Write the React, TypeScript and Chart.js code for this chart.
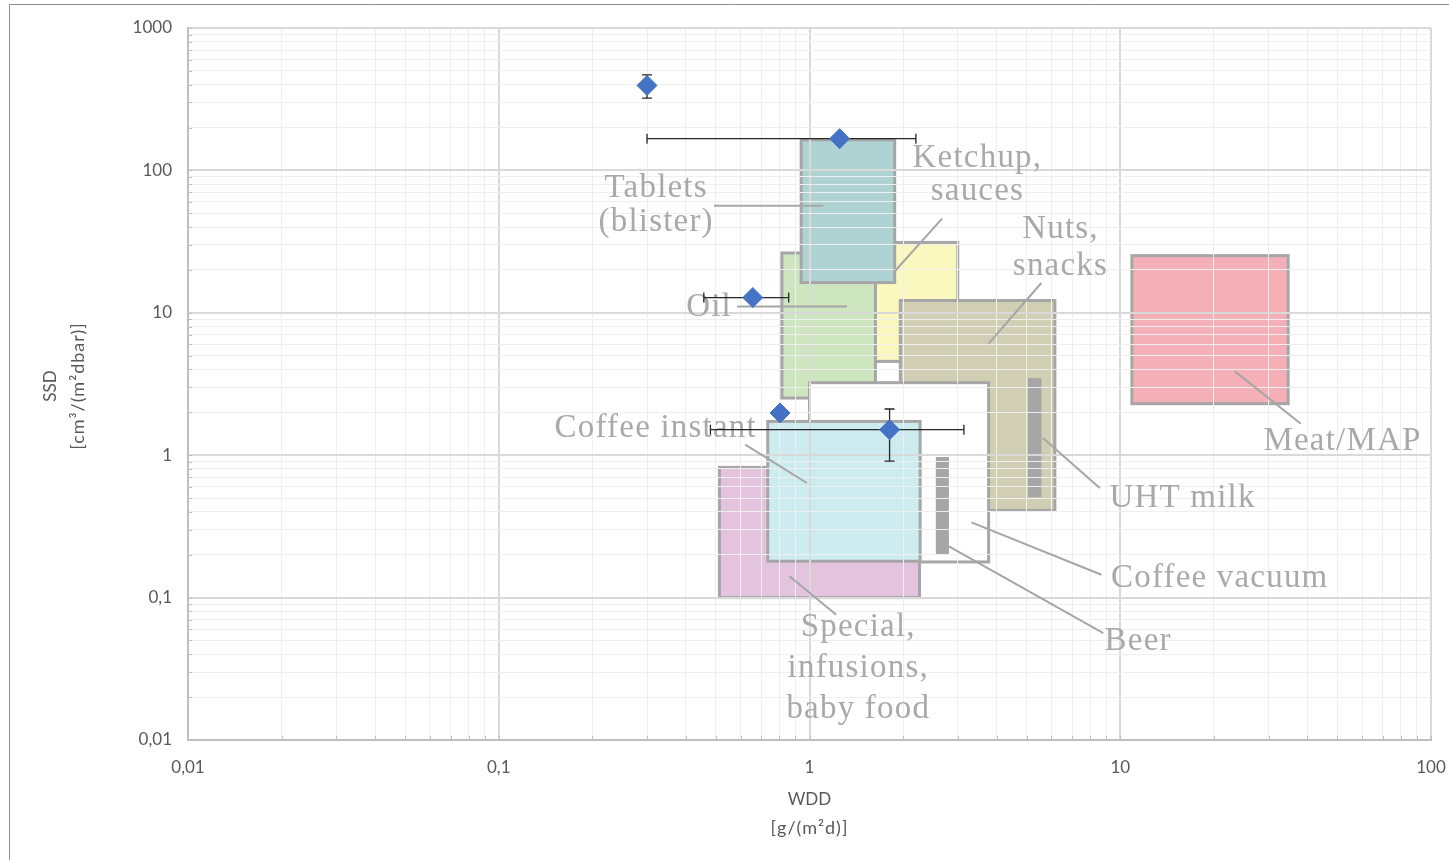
import { useEffect, useRef } from 'react';
import { Chart, registerables } from 'chart.js';

Chart.register(...registerables);

// Measured packages: WDD (x) and SSD (y) with symmetric error bars
const pointX = [0.3, 1.25, 0.657, 0.804, 1.81];
const pointY = [395, 167, 12.8, 1.98, 1.51];
const pointXErr = [0, 0.95, 0.2, 0, 1.33];
const pointYErr = [73, 0, 0, 0, 0.6];

// Requirement ranges per product group, listed in drawing order (back to front)
const boxNames = [
  'Ketchup, sauces',
  'Oil',
  'Tablets (blister)',
  'Nuts, snacks',
  'UHT milk',
  'Coffee vacuum',
  'Beer',
  'Special, infusions, baby food',
  'Coffee instant',
  'Meat/MAP',
];
const boxXMin = [1.55, 0.815, 0.94, 1.96, 5.05, 1.0, 2.55, 0.513, 0.734, 10.9];
const boxXMax = [3.0, 1.63, 1.88, 6.16, 5.58, 3.77, 2.81, 2.26, 2.27, 34.7];
const boxYMin = [4.56, 2.52, 16.3, 0.41, 0.506, 0.178, 0.202, 0.1, 0.18, 2.3];
const boxYMax = [31.2, 26.3, 164, 12.2, 3.48, 3.23, 0.971, 0.821, 1.727, 25.2];

// Axis ticks
const xMajorTicks = [0.01, 0.1, 1, 10, 100];
const xTickLabels = ['0,01', '0,1', '1', '10', '100'];
const yMajorTicks = [0.01, 0.1, 1, 10, 100, 1000];
const yTickLabels = ['0,01', '0,1', '1', '10', '100', '1000'];
const minorSteps = [2, 3, 4, 5, 6, 7, 8, 9];

// Fill colours of the ranges; bars (UHT milk, Beer) have no outline
const boxStyle: Record<string, { fill: string; outline: boolean }> = {
  'Ketchup, sauces': { fill: '#FAF8BE', outline: true },
  Oil: { fill: '#CDE6C0', outline: true },
  'Tablets (blister)': { fill: '#AED3D2', outline: true },
  'Nuts, snacks': { fill: '#D1CFB3', outline: true },
  'UHT milk': { fill: '#A6A6A6', outline: false },
  'Coffee vacuum': { fill: '#FFFFFF', outline: true },
  Beer: { fill: '#A6A6A6', outline: false },
  'Special, infusions, baby food': { fill: '#E4C3DE', outline: true },
  'Coffee instant': { fill: '#CDECF0', outline: true },
  'Meat/MAP': { fill: '#F4B0B6', outline: true },
};

// Callout texts with their leader lines (positions in data units)
type Callout = {
  lines: string[];
  at: [number, number]; // centre x, first baseline y
  gap: number;
  from: [number, number];
  to: [number, number];
};
const callouts: Callout[] = [
  { lines: ['Tablets', '(blister)'], at: [0.321, 65.1], gap: 34, from: [0.493, 56.5], to: [1.107, 56.5] },
  { lines: ['Ketchup,', 'sauces'], at: [3.47, 106.2], gap: 33, from: [2.67, 45.8], to: [1.888, 19.75] },
  { lines: ['Nuts,', 'snacks'], at: [6.42, 33.5], gap: 37, from: [5.57, 16.19], to: [3.77, 6.07] },
  { lines: ['Oil'], at: [0.475, 9.43], gap: 0, from: [0.584, 11.09], to: [1.32, 11.09] },
  { lines: ['Coffee instant'], at: [0.32, 1.342], gap: 0, from: [0.621, 1.185], to: [0.981, 0.638] },
  { lines: ['Special,', 'infusions,', 'baby food'], at: [1.435, 0.0534], gap: 41, from: [0.862, 0.141], to: [1.219, 0.0759] },
  { lines: ['Meat/MAP'], at: [51.9, 1.093], gap: 0, from: [23.4, 3.88], to: [38.1, 1.664] },
  { lines: ['UHT milk'], at: [15.86, 0.4328], gap: 0, from: [5.64, 1.32], to: [8.59, 0.588] },
  { lines: ['Coffee vacuum'], at: [20.9, 0.1179], gap: 0, from: [3.32, 0.3374], to: [8.7, 0.1448] },
  { lines: ['Beer'], at: [11.42, 0.0431], gap: 0, from: [2.81, 0.229], to: [8.82, 0.0564] },
];

const AXIS_FONT = 'Lato, "Open Sans", sans-serif';
const CALLOUT_FONT = '"Liberation Serif", "DejaVu Serif", serif';

function buildTicks(majors: number[]) {
  const out: { value: number; major: boolean }[] = [];
  majors.forEach((m, i) => {
    out.push({ value: m, major: true });
    if (i < majors.length - 1) {
      minorSteps.forEach((s) => out.push({ value: Number((m * s).toPrecision(6)), major: false }));
    }
  });
  return out;
}

function labelFor(value: number, majors: number[], labels: string[]) {
  const i = majors.findIndex((m) => Math.abs(Math.log10(value / m)) < 1e-6);
  return i >= 0 ? labels[i] : '';
}

const rangesPlugin = {
  id: 'ranges',
  beforeDraw(chart: any) {
    const { ctx, chartArea, scales } = chart;
    const xs = scales.x;
    const ys = scales.y;
    ctx.save();
    ctx.beginPath();
    ctx.rect(chartArea.left, chartArea.top, chartArea.right - chartArea.left, chartArea.bottom - chartArea.top);
    ctx.clip();
    boxNames.forEach((name, i) => {
      const x0 = xs.getPixelForValue(boxXMin[i]);
      const x1 = xs.getPixelForValue(boxXMax[i]);
      const y0 = ys.getPixelForValue(boxYMax[i]);
      const y1 = ys.getPixelForValue(boxYMin[i]);
      const st = boxStyle[name];
      ctx.fillStyle = st.fill;
      ctx.fillRect(x0, y0, x1 - x0, y1 - y0);
      if (st.outline) {
        ctx.strokeStyle = '#A6A6A6';
        ctx.lineWidth = 3;
        ctx.strokeRect(x0, y0, x1 - x0, y1 - y0);
      }
    });
    ctx.restore();
  },
  beforeDatasetsDraw(chart: any) {
    const { ctx, chartArea, scales } = chart;
    const xs = scales.x;
    const ys = scales.y;
    ctx.save();

    // small inward tick marks along both axes
    ctx.strokeStyle = '#BFBFBF';
    ctx.lineWidth = 1;
    ctx.beginPath();
    xs.ticks.forEach((t: any) => {
      const px = Math.round(xs.getPixelForValue(t.value)) + 0.5;
      ctx.moveTo(px, chartArea.bottom);
      ctx.lineTo(px, chartArea.bottom - 4);
    });
    ys.ticks.forEach((t: any) => {
      const py = Math.round(ys.getPixelForValue(t.value)) + 0.5;
      ctx.moveTo(chartArea.left, py);
      ctx.lineTo(chartArea.left + 4, py);
    });
    ctx.stroke();

    // leader lines
    ctx.strokeStyle = '#A6A6A6';
    ctx.lineWidth = 2;
    callouts.forEach((c) => {
      ctx.beginPath();
      ctx.moveTo(xs.getPixelForValue(c.from[0]), ys.getPixelForValue(c.from[1]));
      ctx.lineTo(xs.getPixelForValue(c.to[0]), ys.getPixelForValue(c.to[1]));
      ctx.stroke();
    });

    // callout texts
    ctx.fillStyle = '#A9A9A9';
    ctx.font = `33px ${CALLOUT_FONT}`;
    (ctx as any).letterSpacing = '1.2px';
    ctx.textAlign = 'center';
    ctx.textBaseline = 'alphabetic';
    callouts.forEach((c) => {
      const cx = xs.getPixelForValue(c.at[0]);
      const by = ys.getPixelForValue(c.at[1]);
      c.lines.forEach((line, k) => ctx.fillText(line, cx, by + k * c.gap));
    });
    (ctx as any).letterSpacing = '0px';

    // error bars, drawn beneath the markers
    ctx.strokeStyle = '#262626';
    ctx.lineWidth = 1.3;
    const cap = 5;
    pointX.forEach((vx, i) => {
      const px = xs.getPixelForValue(vx);
      const py = ys.getPixelForValue(pointY[i]);
      ctx.beginPath();
      if (pointXErr[i] > 0) {
        const xl = xs.getPixelForValue(vx - pointXErr[i]);
        const xr = xs.getPixelForValue(vx + pointXErr[i]);
        ctx.moveTo(xl, py);
        ctx.lineTo(xr, py);
        ctx.moveTo(xl, py - cap);
        ctx.lineTo(xl, py + cap);
        ctx.moveTo(xr, py - cap);
        ctx.lineTo(xr, py + cap);
      }
      if (pointYErr[i] > 0) {
        const yt = ys.getPixelForValue(pointY[i] + pointYErr[i]);
        const yb = ys.getPixelForValue(pointY[i] - pointYErr[i]);
        ctx.moveTo(px, yt);
        ctx.lineTo(px, yb);
        ctx.moveTo(px - cap, yt);
        ctx.lineTo(px + cap, yt);
        ctx.moveTo(px - cap, yb);
        ctx.lineTo(px + cap, yb);
      }
      ctx.stroke();
    });
    ctx.restore();
  },
  afterDraw(chart: any) {
    const { ctx, chartArea, width, height } = chart;
    ctx.save();
    // axis titles
    ctx.fillStyle = '#595959';
    ctx.textAlign = 'center';
    ctx.textBaseline = 'middle';
    const cx = (chartArea.left + chartArea.right) / 2;
    ctx.font = `17px ${AXIS_FONT}`;
    ctx.fillText('WDD', cx, chartArea.bottom + 60);
    ctx.font = `18px ${AXIS_FONT}`;
    (ctx as any).letterSpacing = '1px';
    ctx.fillText('[g/(m²d)]', cx, chartArea.bottom + 88);
    (ctx as any).letterSpacing = '0px';
    const cy = (chartArea.top + chartArea.bottom) / 2 + 2;
    ctx.save();
    ctx.translate(chartArea.left - 137, cy);
    ctx.rotate(-Math.PI / 2);
    ctx.font = `17px ${AXIS_FONT}`;
    ctx.fillText('SSD', 0, 0);
    ctx.restore();
    ctx.save();
    ctx.translate(chartArea.left - 110, cy);
    ctx.rotate(-Math.PI / 2);
    ctx.font = `18px ${AXIS_FONT}`;
    (ctx as any).letterSpacing = '1px';
    ctx.fillText('[cm³/(m²dbar)]', 0, 0);
    (ctx as any).letterSpacing = '0px';
    ctx.restore();

    // outer frame
    ctx.strokeStyle = '#8E8E8E';
    ctx.lineWidth = 1;
    ctx.beginPath();
    ctx.moveTo(9.5, height);
    ctx.lineTo(9.5, 4.5);
    ctx.lineTo(width, 4.5);
    ctx.stroke();
    ctx.restore();
  },
};

export default function App() {
  const canvasRef = useRef<HTMLCanvasElement | null>(null);

  useEffect(() => {
    const canvas = canvasRef.current;
    if (!canvas) return;
    const chart = new Chart(canvas, {
      type: 'scatter',
      data: {
        datasets: [
          {
            label: 'Measured',
            data: pointX.map((x, i) => ({ x, y: pointY[i] })),
            backgroundColor: '#4472C4',
            borderColor: '#4472C4',
            borderWidth: 1,
            pointStyle: 'rectRot',
            pointRadius: 10,
            pointHoverRadius: 10,
          },
        ],
      },
      options: {
        responsive: false,
        animation: false,
        devicePixelRatio: 1,
        layout: { padding: { left: 0, right: 18, top: 28, bottom: 0 } },
        plugins: {
          legend: { display: false },
          tooltip: { enabled: false },
        },
        scales: {
          x: {
            type: 'logarithmic',
            min: 0.01,
            max: 100,
            afterBuildTicks: (scale: any) => {
              scale.ticks = buildTicks(xMajorTicks);
            },
            afterFit: (scale: any) => {
              scale.height = 120;
              scale.paddingLeft = 0;
              scale.paddingRight = 0;
            },
            ticks: {
              autoSkip: false,
              maxRotation: 0,
              padding: 17,
              color: '#595959',
              font: { family: AXIS_FONT, size: 17 },
              callback: (v: any) => labelFor(Number(v), xMajorTicks, xTickLabels),
            },
            grid: {
              drawTicks: false,
              color: (c: any) => (c.tick && c.tick.major ? '#D9D9D9' : '#EFEFEF'),
              lineWidth: (c: any) => (c.tick && c.tick.major ? 2 : 1),
            },
            border: { color: '#BFBFBF', width: 2 },
          },
          y: {
            type: 'logarithmic',
            min: 0.01,
            max: 1000,
            afterBuildTicks: (scale: any) => {
              scale.ticks = buildTicks(yMajorTicks);
            },
            afterFit: (scale: any) => {
              scale.width = 188;
              scale.paddingTop = 0;
              scale.paddingBottom = 0;
            },
            ticks: {
              autoSkip: false,
              padding: 16,
              color: '#595959',
              font: { family: AXIS_FONT, size: 17 },
              callback: (v: any) => labelFor(Number(v), yMajorTicks, yTickLabels),
            },
            grid: {
              drawTicks: false,
              color: (c: any) => (c.tick && c.tick.major ? '#D9D9D9' : '#EFEFEF'),
              lineWidth: (c: any) => (c.tick && c.tick.major ? 2 : 1),
            },
            border: { color: '#BFBFBF', width: 2 },
          },
        },
      },
      plugins: [rangesPlugin],
    });
    return () => chart.destroy();
  }, []);

  return (
    <div style={{ position: 'fixed', left: 0, top: 0, width: 1449, height: 860, background: '#FFFFFF' }}>
      <canvas ref={canvasRef} width={1449} height={860} style={{ display: 'block' }} />
    </div>
  );
}
